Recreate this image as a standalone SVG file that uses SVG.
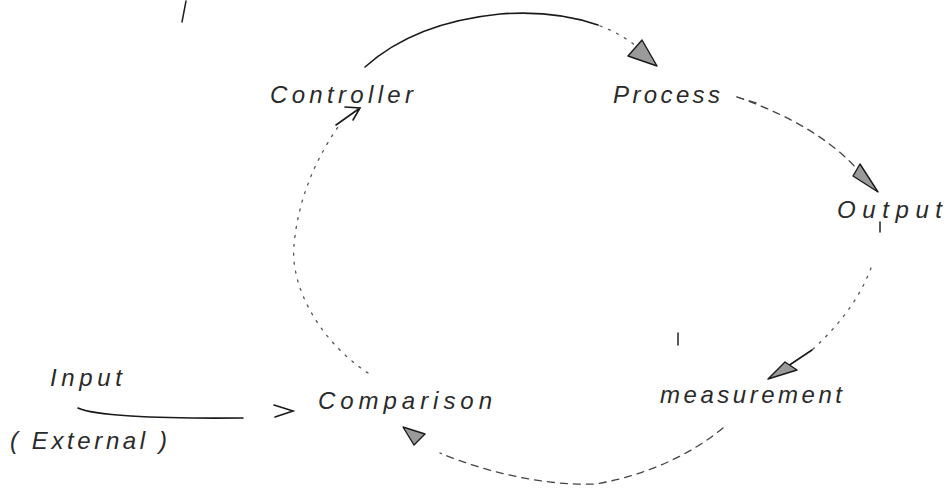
<svg xmlns="http://www.w3.org/2000/svg" width="946" height="488" viewBox="0 0 946 488">
<style>
.lbl{font-family:"Liberation Sans","DejaVu Sans",sans-serif;font-style:italic;font-size:24px;fill:#2a2a2a}
.solid{fill:none;stroke:#1a1a1a;stroke-width:1.6;stroke-linecap:round}
.dots{fill:none;stroke:#555;stroke-width:1.3;stroke-dasharray:2 7;stroke-linecap:round}
.dash{fill:none;stroke:#444;stroke-width:1.3;stroke-dasharray:7 6;stroke-linecap:round}
.head{fill:#9a9a9a;stroke:#1a1a1a;stroke-width:1.4;stroke-linejoin:round}
.mark{fill:none;stroke:#222;stroke-width:1.5;stroke-linecap:round}
</style>
<rect width="946" height="488" fill="#ffffff"/>
<path class="mark" d="M186,1 L182,22"/>
<path class="mark" d="M880,222 L880,232"/>
<path class="mark" d="M678,333 L678,345"/>
<g id="connectors">
  <!-- Controller to Process -->
  <path class="solid" d="M365,67 C395,40 440,20 500,14 C540,11 572,16 598,25"/>
  <path class="dots" d="M600,26 C620,33 636,45 648,56"/>
  <polygon class="head" points="657,66 628,56 642,40"/>
  <!-- Process to Output -->
  <path class="dash" d="M737,97 C775,110 830,135 862,175"/>
  <polygon class="head" points="878,192 853,176 860,164"/>
  <!-- Output to Measurement -->
  <path class="dots" d="M871,268 C862,292 845,320 812,350"/>
  <path class="solid" d="M812,350 L770,378"/>
  <polygon class="head" points="768,379 785,362 797,370"/>
  <!-- Measurement to Comparison -->
  <path class="dash" d="M723,428 C690,455 645,476 595,484 C545,486 485,472 440,453"/>
  <polygon class="head" points="403,427 425,434 414,445"/>
  <!-- Comparison to Controller -->
  <path class="dots" d="M368,373 C318,340 290,285 294,245 C298,200 315,160 338,127"/>
  <path class="solid" d="M336,125 L360,108 M345,107 L360,108 L353,120"/>
  <!-- Input to Comparison -->
  <path class="solid" d="M78,408 C92,415 150,419 243,418"/>
  <path class="solid" d="M274,405 L293,411 L275,417"/>
</g>
<g id="controller"><text class="lbl" x="270" y="103" textLength="143" lengthAdjust="spacing">Controller</text></g>
<g id="process"><text class="lbl" x="613" y="103" textLength="107" lengthAdjust="spacing">Process</text><path class="dash" d="M737,97 L760,104"/></g>
<g id="output"><text class="lbl" x="837" y="218" textLength="105" lengthAdjust="spacing">Output</text></g>
<g id="measurement"><text class="lbl" x="660" y="403" textLength="182" lengthAdjust="spacing">measurement</text></g>
<g id="comparison"><text class="lbl" x="318" y="409" textLength="174" lengthAdjust="spacing">Comparison</text></g>
<g id="input"><text class="lbl" x="50" y="386" textLength="72" lengthAdjust="spacing">Input</text><text class="lbl" x="10" y="449" textLength="157" lengthAdjust="spacing">( External )</text></g>
</svg>
